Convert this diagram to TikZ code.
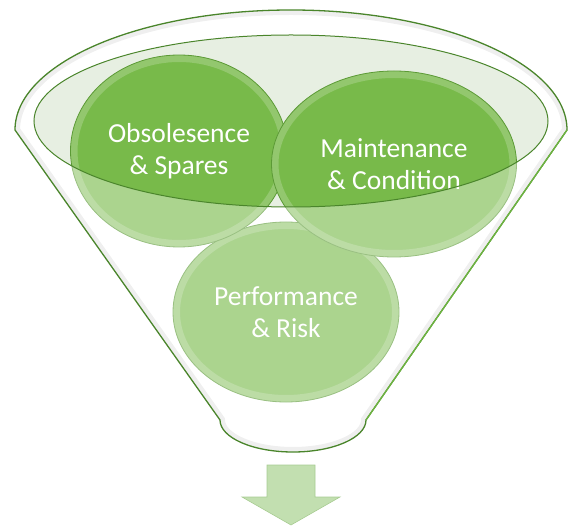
\documentclass[tikz,border=0pt]{standalone}
\usepackage{fontspec}
\setmainfont{Carlito}
\usetikzlibrary{shapes.geometric,calc}
\definecolor{leaf}{HTML}{78BA4A}
\definecolor{leafrim}{HTML}{5C9A36}
\definecolor{leafdark}{HTML}{4A852B}
\definecolor{leaflight}{HTML}{6DB440}
\definecolor{mint}{HTML}{E7EFE2}
\definecolor{arrowfill}{HTML}{C2DFB0}
\definecolor{arrowedge}{HTML}{A8CC92}

\begin{document}
\begin{tikzpicture}[x=1pt,y=1pt,
  blob/.style={ellipse, inner sep=0pt, draw=leafrim, line width=.8pt,
    fill=leaf, text=white, align=center,
    font=\fontsize{27.5}{31.5}\selectfont,
    path picture={\draw[white, opacity=.2, line width=14pt]
      let \p1=(path picture bounding box.south west),
          \p2=(path picture bounding box.north east)
      in ($(\p1)!.5!(\p2)$) ellipse [x radius={(\x2-\x1)/2}, y radius={(\y2-\y1)/2}];}},
  rimline/.style={draw=leafdark, line width=1pt},
  funnelline/.style={draw=leafdark, line width=1.3pt},
  funnel/.style={insert path={(RimL) arc [start angle=180, end angle=0, x radius=276, y radius=120]
    -- (NeckR) arc [start angle=0, end angle=-180, x radius=73, y radius=32] -- cycle}}]

\useasboundingbox (0,0) rectangle (572,525);

\coordinate (RimL) at (15,395);
\coordinate (RimR) at (567,395);
\coordinate (NeckR) at (366,105);
\coordinate (Top) at (291,404);

\begin{scope}
  \clip[funnel];
  \draw[black, opacity=.1, line width=10pt, funnel];
\end{scope}

\fill[mint] (Top) ellipse [x radius=257, y radius=86];

\node[blob, minimum width=226, minimum height=180] (Perf) at (286,213) {Performance\\\& Risk};
\node[blob, minimum width=217, minimum height=192] (Obs) at (179,374) {Obsolesence\\\& Spares};
\node[blob, minimum width=245, minimum height=186] (Maint) at (394,361) {Maintenance\\\& Condition};

\fill[white, opacity=.38, even odd rule, funnel] (Top) ellipse [x radius=257, y radius=86];

\draw[rimline] (Top) ellipse [x radius=257, y radius=86];

\draw[funnelline, funnel];
\draw[leaflight, line width=1.3pt] (RimR) -- (NeckR);

\draw[fill=arrowfill, draw=arrowedge, line width=.6pt]
  (267,60) -- (315,60) -- (315,28) -- (340,28) -- (291,0) -- (242,28) -- (267,28) -- cycle;
\end{tikzpicture}
\end{document}
